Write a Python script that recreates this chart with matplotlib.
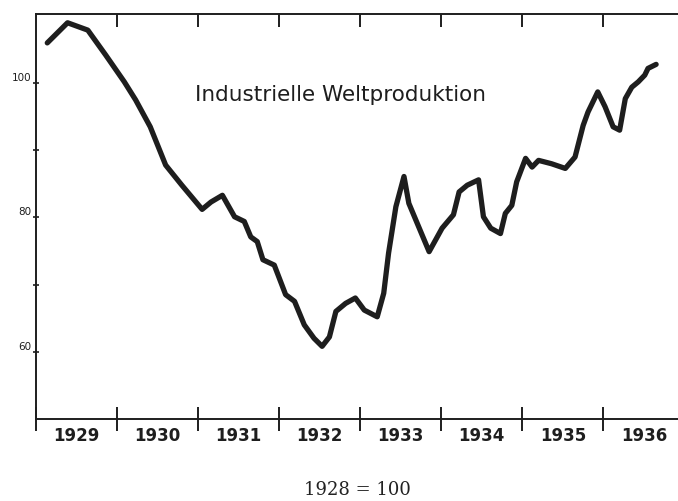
import matplotlib
matplotlib.use('Agg')
import matplotlib.pyplot as plt
import numpy as np

# index of world industrial production, 1928 = 100
year_pos = [1929.14, 1929.39, 1929.64, 1929.86, 1930.09, 1930.23, 1930.41, 1930.60,
            1930.80, 1931.05, 1931.16, 1931.30, 1931.45, 1931.57, 1931.65, 1931.73,
            1931.80, 1931.94, 1932.08, 1932.19, 1932.31, 1932.43, 1932.53, 1932.62,
            1932.70, 1932.82, 1932.94, 1933.05, 1933.21, 1933.29, 1933.35, 1933.44,
            1933.54, 1933.60, 1933.85, 1934.01, 1934.15, 1934.22, 1934.32, 1934.46,
            1934.52, 1934.61, 1934.73, 1934.79, 1934.87, 1934.93, 1935.04, 1935.12,
            1935.20, 1935.36, 1935.53, 1935.65, 1935.75, 1935.81, 1935.93, 1936.02,
            1936.12, 1936.20, 1936.27, 1936.35, 1936.43, 1936.51, 1936.55, 1936.65]
index_vals = [106.0, 109.0, 107.9, 104.2, 100.2, 97.5, 93.5, 87.8,
              84.8, 81.2, 82.3, 83.3, 80.1, 79.4, 77.1, 76.4,
              73.7, 72.9, 68.5, 67.5, 64.0, 62.0, 60.8, 62.2,
              66.0, 67.2, 68.0, 66.2, 65.2, 68.7, 74.7, 81.6,
              86.1, 82.1, 74.9, 78.4, 80.4, 83.8, 84.8, 85.6,
              80.1, 78.4, 77.6, 80.6, 81.8, 85.3, 88.8, 87.5,
              88.5, 88.0, 87.3, 89.0, 93.7, 95.7, 98.7, 96.5,
              93.5, 93.0, 97.7, 99.4, 100.2, 101.2, 102.2, 102.8]

years = [1929, 1930, 1931, 1932, 1933, 1934, 1935, 1936]
ytick_vals = [60, 70, 80, 90, 100]
ytick_labels = ['60', '', '80', '', '100']

ink = '#1e1e1e'

fig = plt.figure(figsize=(6.78, 5.01), dpi=100)
ax = fig.add_axes([0.053, 0.164, 0.947, 0.808])

ax.plot(year_pos, index_vals, color=ink, lw=3.8, solid_joinstyle='round',
        solid_capstyle='round')

ax.set_xlim(1929, 1936.92)
ax.set_ylim(50, 110.3)

for s in ['left', 'bottom', 'top']:
    ax.spines[s].set_linewidth(1.4)
    ax.spines[s].set_color(ink)
ax.spines['right'].set_visible(False)

# year boundaries as ticks, year names in between
ax.set_xticks(years)
ax.set_xticklabels([])
ax.tick_params(axis='x', which='major', direction='inout', length=17, width=1.4,
               top=False, color=ink)
ax.set_xticks([y + 0.5 for y in years], minor=True)
ax.set_xticklabels([str(y) for y in years], minor=True, fontsize=12,
                   fontweight='bold', color=ink)
ax.tick_params(axis='x', which='minor', length=0, pad=6)

# short inward ticks along the top edge
top = ax.secondary_xaxis('top')
top.set_xticks(years[1:])
top.set_xticklabels([])
top.tick_params(direction='in', length=9, width=1.4, color=ink)
top.spines['top'].set_visible(False)

ax.set_yticks(ytick_vals)
ax.set_yticklabels(ytick_labels, fontsize=7.5, color=ink, va='bottom')
ax.tick_params(axis='y', direction='inout', length=5, width=1.2, pad=1,
               color=ink)

ax.text(1930.96, 98.2, 'Industrielle Weltproduktion', fontsize=15.5,
        color=ink, ha='left', va='center')

fig.text(0.527, 0.022, '1928 = 100', family='DejaVu Serif', fontsize=13,
         ha='center', va='center', color='#222222')

plt.savefig('out.png', dpi=100)
